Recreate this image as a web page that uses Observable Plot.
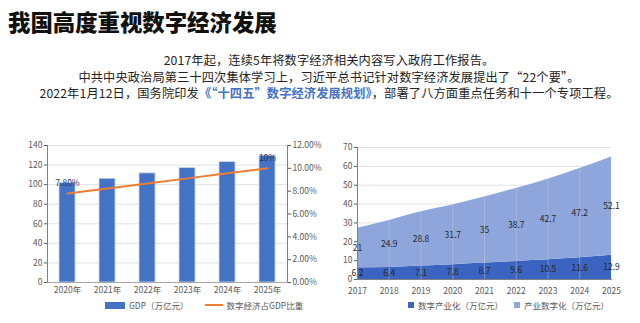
<!DOCTYPE html>
<html><head><meta charset="utf-8">
<script src="https://cdn.jsdelivr.net/npm/d3@7"></script>
<script src="https://cdn.jsdelivr.net/npm/@observablehq/plot@0.6"></script>
<style>
body{margin:0;background:#fff;font-family:"Noto Sans CJK SC","Noto Sans",sans-serif;}
#page{position:relative;width:640px;height:323px;overflow:hidden;background:#fff;}
#title{position:absolute;left:8px;top:6px;font-size:22.4px;font-weight:900;color:#111;letter-spacing:0px;white-space:nowrap;line-height:30px;}
#intro{position:absolute;left:0;top:52px;width:658px;text-align:center;font-size:12.2px;letter-spacing:0.15px;line-height:16.6px;color:#222;white-space:nowrap;}
#intro .hl{color:#4472C4;font-weight:700;}
.chart{position:absolute;top:130px;}
.legend{position:absolute;top:299px;font-size:8.5px;color:#595959;white-space:nowrap;display:flex;align-items:center;gap:4px;}
.sw{display:inline-block;}
</style></head>
<body><div id="page">
<div id="title">我国高度重视数字经济发展</div>
<div id="intro">
<div>2017年起，连续5年将数字经济相关内容写入政府工作报告。</div>
<div>中共中央政治局第三十四次集体学习上，习近平总书记针对数字经济发展提出了“22个要”。</div>
<div>2022年1月12日，国务院印发<span class="hl">《“十四五”数字经济发展规划》</span>，部署了八方面重点任务和十一个专项工程。</div>
</div>
<div id="left" class="chart" style="left:20px"></div>
<div id="right" class="chart" style="left:330px"></div>
<div class="legend" style="left:105px">
  <span class="sw" style="width:20px;height:7px;background:#4472C4"></span><span>GDP（万亿元）</span>
  <span style="width:8px"></span>
  <span class="sw" style="width:18px;height:2px;background:#ED7D31"></span><span>数字经济占GDP比重</span>
</div>
<div class="legend" style="left:408px">
  <span class="sw" style="width:6px;height:6px;background:#3B64C0"></span><span>数字产业化（万亿元）</span>
  <span style="width:3px"></span>
  <span class="sw" style="width:6px;height:6px;background:#8EA6DC"></span><span>产业数字化（万亿元）</span>
</div>
</div>
<script>
// ---- left chart data ----
const gdpYears = ["2020年","2021年","2022年","2023年","2024年","2025年"];
const gdpValues = [101.6, 106, 111.5, 117, 123, 129.5];
const shareValues = [7.8, 8.24, 8.68, 9.12, 9.56, 10];
const shareLabels = ["7.80%", "", "", "", "", "10%"];
const gdpTicks = [0,20,40,60,80,100,120,140];
const pctTicks = [0,2,4,6,8,10,12];

// ---- right chart data ----
const digYears = [2017,2018,2019,2020,2021,2022,2023,2024,2025];
const industryDigital = [6.2, 6.4, 7.1, 7.8, 8.7, 9.6, 10.5, 11.6, 12.9];   // 数字产业化
const digitalIndustry = [21, 24.9, 28.8, 31.7, 35, 38.7, 42.7, 47.2, 52.1]; // 产业数字化
const digTicks = [0,10,20,30,40,50,60,70];

const font = "'Noto Sans CJK SC','Noto Sans',sans-serif";
const axisColor = "#595959";

const gdpData = gdpYears.map((y,i)=>({year:y, gdp:gdpValues[i], share:shareValues[i], label:shareLabels[i]}));
const pctMax = 12, gdpMax = 140;
const toLeft = p => p * gdpMax / pctMax;

const left = Plot.plot({
  width:310, height:170,
  marginLeft:27, marginRight:43, marginTop:15, marginBottom:18,
  style:{fontFamily:font, fontSize:"8.5px", color:axisColor, background:"transparent"},
  x:{type:"band", domain:gdpYears, paddingInner:0.6, paddingOuter:0.3, label:null},
  y:{domain:[0,gdpMax], label:null},
  marks:[
    Plot.gridY(gdpTicks, {stroke:"#d9d9d9", strokeOpacity:0.8}),
    Plot.barY(gdpData, {x:"year", y:"gdp", fill:"#4472C4", stroke:"#c9d6ef", strokeWidth:0.8}),
    Plot.line(gdpData, {x:"year", y:d=>toLeft(d.share), stroke:"#ED7D31", strokeWidth:2}),
    Plot.text(gdpData, {x:"year", y:d=>toLeft(d.share), text:"label", dy:-10, fill:"#1F3864", fontSize:8.5}),
    Plot.axisY(gdpTicks, {anchor:"left", tickSize:3, tickPadding:2, stroke:axisColor, fill:axisColor, label:null}),
    Plot.axisY(pctTicks.map(toLeft), {anchor:"right", tickSize:3, tickPadding:2, stroke:axisColor, fill:axisColor, label:null,
      tickFormat:d=>(d*pctMax/gdpMax).toFixed(2)+"%"}),
    Plot.axisX({anchor:"bottom", tickSize:0, tickPadding:4, fill:axisColor, label:null}),
    Plot.frame({anchor:"left", stroke:"#808080"}),
    Plot.frame({anchor:"right", stroke:"#808080"}),
    Plot.frame({anchor:"bottom", stroke:"#a6a6a6"})
  ]
});
document.getElementById("left").appendChild(left);

const digData = [];
digYears.forEach((y,i)=>{
  digData.push({year:y, series:"数字产业化", v:industryDigital[i], mid:industryDigital[i]/2});
});
digYears.forEach((y,i)=>{
  digData.push({year:y, series:"产业数字化", v:digitalIndustry[i], mid:industryDigital[i]+digitalIndustry[i]/2});
});

const right = Plot.plot({
  width:310, height:170,
  marginLeft:27, marginRight:29, marginTop:17, marginBottom:21,
  style:{fontFamily:font, fontSize:"8.5px", color:axisColor, background:"transparent", overflow:"visible"},
  x:{domain:[2017,2025], label:null},
  y:{domain:[0,70], label:null},
  color:{domain:["数字产业化","产业数字化"], range:["#3B64C0","#8EA6DC"]},
  marks:[
    Plot.gridY(digTicks, {stroke:"#d9d9d9", strokeOpacity:0.8}),
    Plot.areaY(digData, {x:"year", y:"v", fill:"series", z:"series", order:["数字产业化","产业数字化"], curve:"monotone-x"}),
    Plot.ruleX(digYears.slice(1,-1), {stroke:"#c8cbd4", strokeOpacity:0.55, strokeWidth:0.8, y1:0, y2:d=>{const i=digYears.indexOf(d);return industryDigital[i]+digitalIndustry[i];}}),
    Plot.text(digData, {x:"year", y:"mid", text:d=>String(d.v), fill:"#262626", fontSize:8.5}),
    Plot.axisY(digTicks, {anchor:"left", tickSize:3, tickPadding:2, stroke:axisColor, fill:axisColor, label:null}),
    Plot.axisX(digYears, {anchor:"bottom", tickSize:0, tickPadding:8, fill:axisColor, label:null, tickFormat:d=>String(d)}),
    Plot.frame({anchor:"left", stroke:"#808080"}),
    Plot.frame({anchor:"bottom", stroke:"#808080"})
  ]
});
document.getElementById("right").appendChild(right);
</script>
</body></html>
